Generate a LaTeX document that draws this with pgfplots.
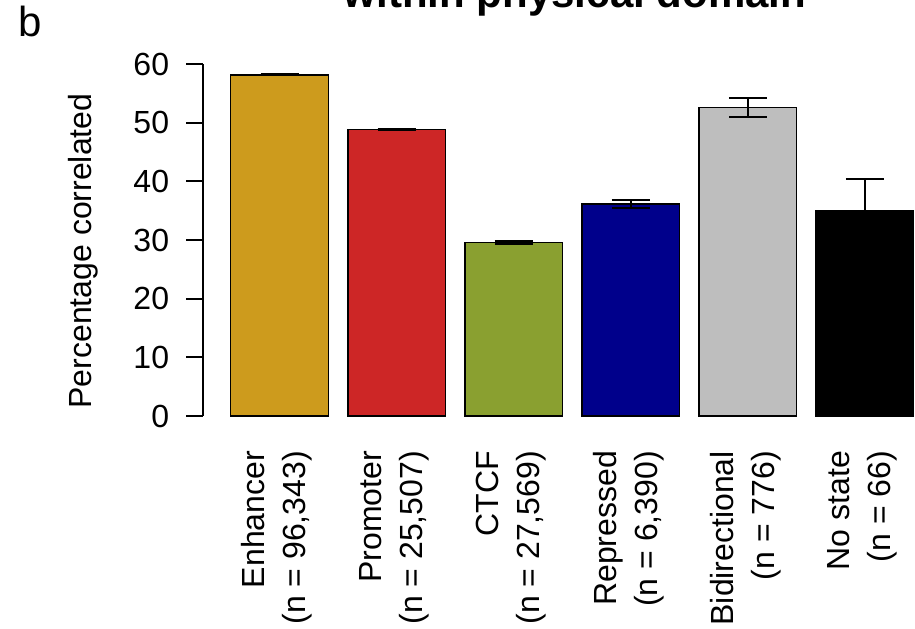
\documentclass[border=0pt]{standalone}
\usepackage{pgfplots}
\pgfplotsset{compat=1.18}
\usepackage{fontspec}
\setmainfont{Liberation Sans}
\definecolor{cEnh}{RGB}{205,155,29}
\definecolor{cPro}{RGB}{205,38,38}
\definecolor{cCTCF}{RGB}{138,160,48}
\definecolor{cRep}{RGB}{0,0,139}
\definecolor{cBid}{RGB}{190,190,190}
\definecolor{cNo}{RGB}{0,0,0}
\newcommand{\fs}{\fontsize{12.8}{16.4}\selectfont}
\pgfplotsset{
  mybar/.style={ybar, bar width=1, bar shift=0pt, fill=#1, draw=black, line width=0.6pt,
    error bars/.cd, y dir=both, y explicit,
    error bar style={line width=0.8pt, black, solid},
    error mark=|,
    error mark options={black, mark size=7.6pt, line width=0.8pt}}
}
\tikzset{catlab/.style={rotate=90, anchor=east, align=right, inner sep=0pt, font=\fs}}
\begin{document}
\begin{tikzpicture}
\clip (0,0) rectangle (366pt,251.2pt);
\begin{axis}[
  at={(81.36pt,84.8pt)}, anchor=south west,
  scale only axis, width=284.6pt, height=140.8pt,
  xmin=-0.08, xmax=7.213, ymin=0, ymax=60,
  axis y line*=left, axis x line=none,
  y axis line style={-, line width=0.8pt},
  ytick={0,10,...,60},
  tick align=outside, major tick length=6.8pt,
  every tick/.style={black, line width=0.8pt},
  yticklabel style={font=\fs, xshift=-3.4pt},
  /pgf/number format/assume math mode=true,
  clip=false,
]
\addplot[mybar=cEnh] coordinates {(0.7,58.15) +- (0,0.1)};
\addplot[mybar=cPro] coordinates {(1.9,48.85) +- (0,0.15)};
\addplot[mybar=cCTCF] coordinates {(3.1,29.6) +- (0,0.2)};
\addplot[mybar=cRep] coordinates {(4.3,36.15) +- (0,0.7)};
\addplot[mybar=cBid] coordinates {(5.5,52.6) +- (0,1.65)};
\addplot[mybar=cNo] coordinates {(6.7,34.9) +- (0,5.45)};
\node[catlab] at (axis cs:0.675,-5.9) {Enhancer\\(n = 96,343)};
\node[catlab] at (axis cs:1.875,-5.9) {Promoter\\(n = 25,507)};
\node[catlab] at (axis cs:3.075,-5.9) {CTCF\\(n = 27,569)};
\node[catlab] at (axis cs:4.275,-5.9) {Repressed\\(n = 6,390)};
\node[catlab] at (axis cs:5.475,-5.9) {Bidirectional\\(n = 776)};
\node[catlab] at (axis cs:6.675,-5.9) {No state\\(n = 66)};
\end{axis}
\node[rotate=90, anchor=base, inner sep=0pt, font=\fs] at (36.6pt,150.8pt) {Percentage correlated};
\node[anchor=base, inner sep=0pt, font=\fontsize{16.8}{20}\selectfont\bfseries] at (230pt,248pt) {within physical domain};
\node[anchor=base west, inner sep=0pt, font=\fontsize{16.8}{20}\selectfont] at (7.2pt,236.4pt) {b};
\end{tikzpicture}
\end{document}
